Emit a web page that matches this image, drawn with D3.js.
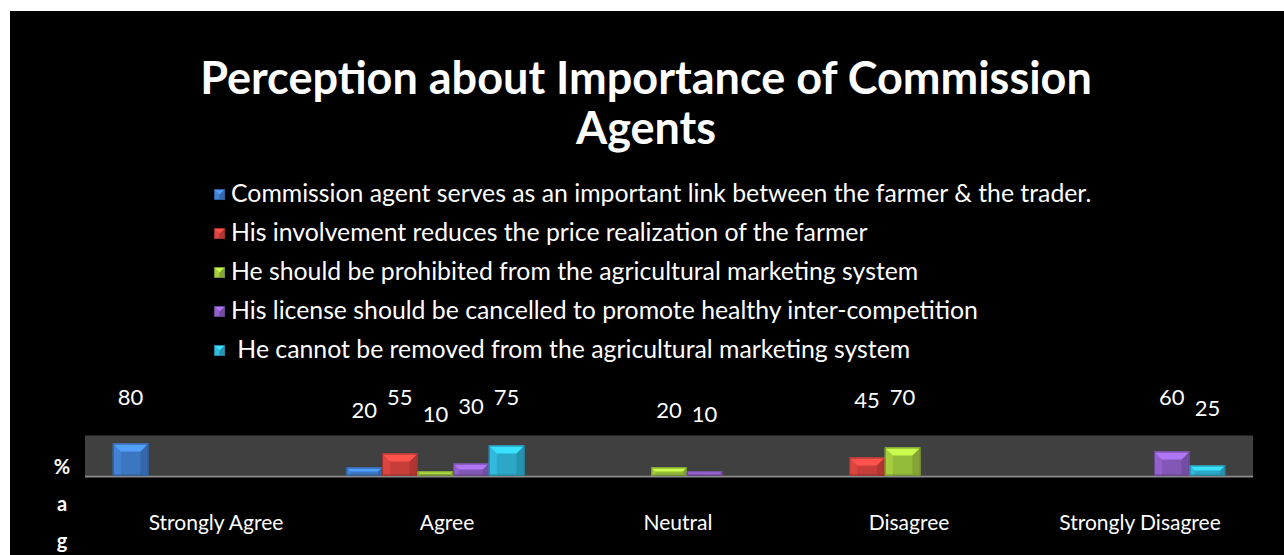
<!DOCTYPE html>
<html>
<head>
<meta charset="utf-8">
<script src="https://cdn.jsdelivr.net/npm/d3@7"></script>
<style>
  html, body { margin: 0; padding: 0; background: #fff; }
  svg { display: block; }
</style>
</head>
<body>
<div id="chart"></div>
<script>
// ---- data ----
var categories = ["Strongly Agree", "Agree", "Neutral", "Disagree", "Strongly Disagree"];
var seriesNames = [
  "Commission agent serves as an important link between the farmer & the trader.",
  "His involvement reduces the price realization of the farmer",
  "He should be prohibited from the agricultural marketing system",
  "His license should be cancelled to promote healthy inter-competition",
  " He cannot be removed from the agricultural marketing system"
];
var linkValues       = [80, 20, null, null, null];
var reducesValues    = [null, 55, null, 45, null];
var prohibitValues   = [null, 10, 20, 70, null];
var licenseValues    = [null, 30, 10, null, 60];
var notRemoveValues  = [null, 75, null, null, 25];
var seriesValues = [linkValues, reducesValues, prohibitValues, licenseValues, notRemoveValues];
var seriesColors = ["#3f7ccc", "#d2403c", "#9cc43c", "#8a5cc0", "#2eb0d2"];
var yTicks = [0, 100];
var axisTitle = "%age";

// ---- layout ----
var W = 1284, H = 555;
var plot = {left: 85, right: 1253, top: 435.5, bottom: 475.5};
var font = "Lato, 'Open Sans', sans-serif";

var svg = d3.select("#chart").append("svg").attr("width", W).attr("height", H);

svg.append("rect").attr("x", 10).attr("y", 11).attr("width", W - 10).attr("height", H - 11).attr("fill", "#000");

// title
var title = svg.append("text")
  .attr("text-anchor", "middle")
  .attr("font-family", font)
  .attr("font-weight", "bold")
  .attr("font-size", 45)
  .attr("fill", "#fff");
title.append("tspan").attr("x", 646).attr("y", 94).text("Perception about Importance of Commission");
title.append("tspan").attr("x", 646).attr("y", 144).text("Agents");

// scales
var x0 = d3.scaleBand().domain(categories).range([plot.left, plot.right]).paddingInner(0.238).paddingOuter(0.119);
var x1 = d3.scaleBand().domain(d3.range(seriesNames.length)).range([0, x0.bandwidth()]);
var y = d3.scaleLinear().domain(d3.extent(yTicks)).range([plot.bottom, plot.top]);
// category labels sit slightly off the bar groups in the original
var xl = d3.scalePoint().domain(categories).range([216, 1140]);

// plot band
svg.append("rect")
  .attr("x", plot.left).attr("y", plot.top)
  .attr("width", plot.right - plot.left).attr("height", plot.bottom - plot.top)
  .attr("fill", "#404040");
svg.append("line")
  .attr("x1", plot.left).attr("x2", plot.right)
  .attr("y1", plot.bottom + 1).attr("y2", plot.bottom + 1)
  .attr("stroke", "#8a8a8a").attr("stroke-width", 2);

// bevelled box (roughly like the office chart bars)
function bevelBox(g, bx, by, bw, bh, color) {
  var c = d3.color(color);
  var b = Math.min(8, bh / 2, bw / 2);
  g.append("rect").attr("x", bx).attr("y", by).attr("width", bw).attr("height", bh).attr("fill", c.darker(0.15));
  // left face
  g.append("path").attr("d", "M" + bx + "," + by + "L" + (bx + b) + "," + (by + b) + "L" + (bx + b) + "," + (by + bh) + "L" + bx + "," + (by + bh) + "Z")
    .attr("fill", c.brighter(0.15));
  // right face
  g.append("path").attr("d", "M" + (bx + bw) + "," + by + "L" + (bx + bw - b) + "," + (by + b) + "L" + (bx + bw - b) + "," + (by + bh) + "L" + (bx + bw) + "," + (by + bh) + "Z")
    .attr("fill", c.darker(0.5));
  // top face
  g.append("path").attr("d", "M" + bx + "," + by + "L" + (bx + bw) + "," + by + "L" + (bx + bw - b) + "," + (by + b) + "L" + (bx + b) + "," + (by + b) + "Z")
    .attr("fill", c.brighter(0.7));
  g.append("rect").attr("x", bx + 0.5).attr("y", by + 0.5).attr("width", bw - 1).attr("height", bh - 1)
    .attr("fill", "none").attr("stroke", c.darker(0.8)).attr("stroke-width", 1);
}

// bars
var bars = svg.append("g");
var labels = svg.append("g")
  .attr("font-family", font)
  .attr("font-size", 22)
  .attr("fill", "#fff")
  .attr("text-anchor", "middle");

seriesValues.forEach(function(vals, s) {
  vals.forEach(function(v, i) {
    if (v == null) return;
    var bx = x0(categories[i]) + x1(s);
    bevelBox(bars, bx, y(v), x1.bandwidth(), y(0) - y(v), seriesColors[s]);
    labels.append("text")
      .attr("x", bx + x1.bandwidth() / 2)
      .attr("y", Math.max(405, y(v) - 50))
      .text(v);
  });
});

// category labels
svg.append("g")
  .attr("font-family", font)
  .attr("font-size", 21)
  .attr("fill", "#fff")
  .attr("text-anchor", "middle")
  .selectAll("text").data(categories).enter().append("text")
  .attr("x", function(d) { return xl(d); })
  .attr("y", 530)
  .text(function(d) { return d; });

// axis title, stacked letters
var at = svg.append("text")
  .attr("font-family", font)
  .attr("font-weight", "bold")
  .attr("font-size", 20)
  .attr("fill", "#fff")
  .attr("text-anchor", "middle");
axisTitle.split("").forEach(function(ch, i) {
  at.append("tspan").attr("x", 62).attr("y", 474 + i * 37).text(ch);
});

// legend
var legend = svg.append("g")
  .attr("font-family", font)
  .attr("font-size", 24.8)
  .attr("fill", "#fff");
seriesNames.forEach(function(name, s) {
  var ly = 194 + s * 39;
  bevelBox(legend, 214, ly - 5, 11, 11, seriesColors[s]);
  legend.append("text").attr("x", 231).attr("y", ly + 8).attr("xml:space", "preserve").style("white-space", "pre").text(name);
});
</script>
</body>
</html>
